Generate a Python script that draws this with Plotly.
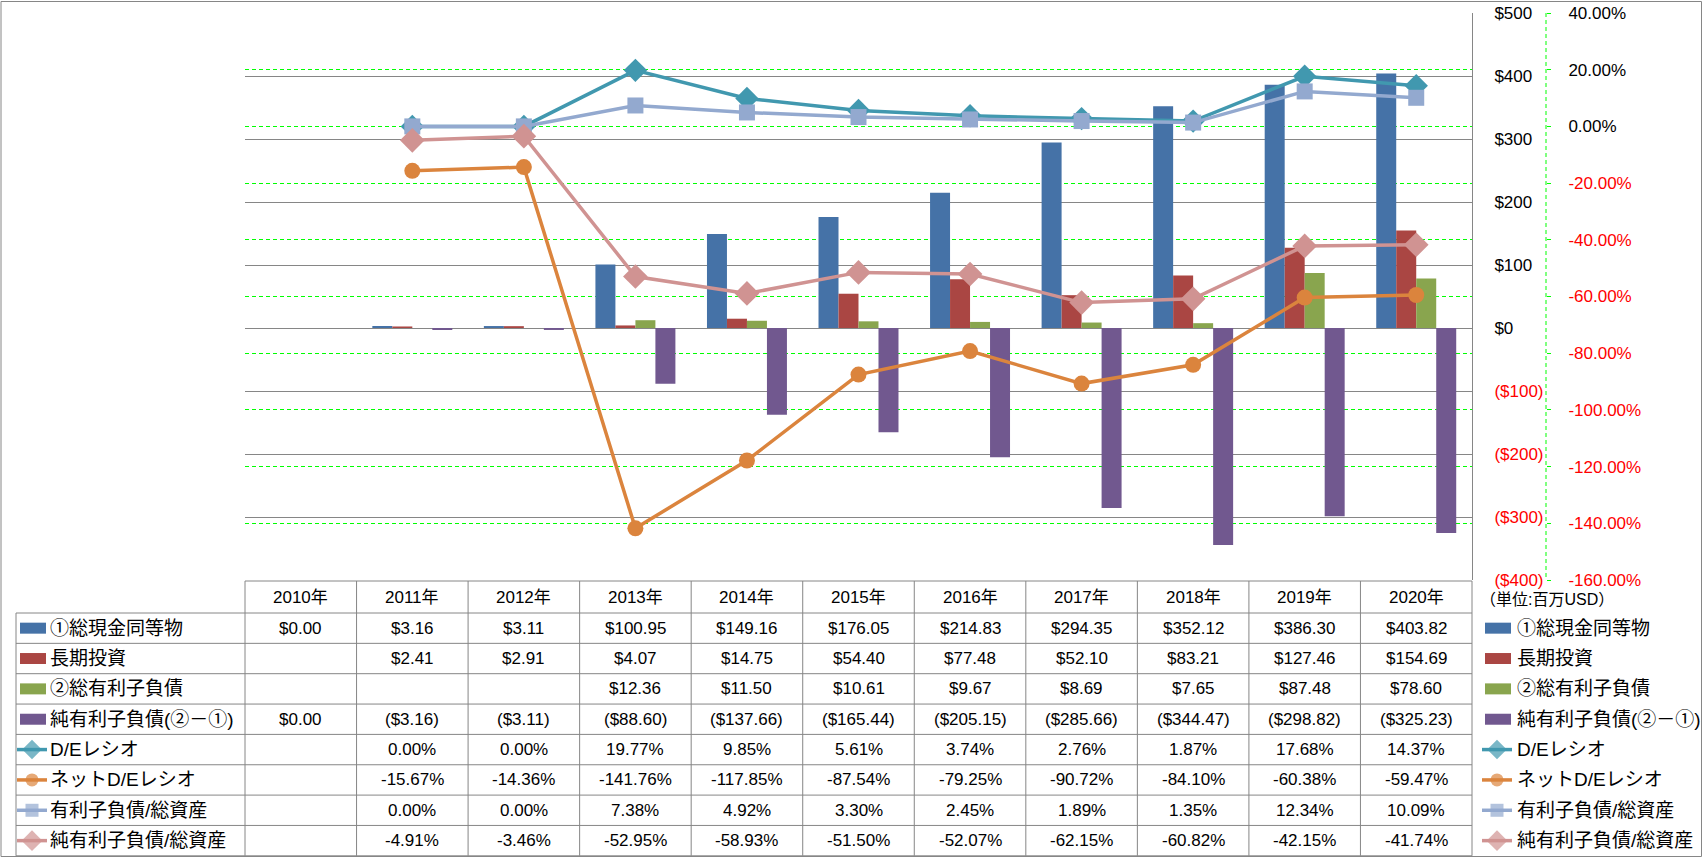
import plotly.graph_objects as go

# figure fills the whole 1704x858 page (body margin removed after render)
OFF = 0
FW, FH = 1704, 858

years = ['2010年', '2011年', '2012年', '2013年', '2014年', '2015年',
         '2016年', '2017年', '2018年', '2019年', '2020年']

cash = [0.00, 3.16, 3.11, 100.95, 149.16, 176.05, 214.83, 294.35, 352.12, 386.30, 403.82]
lt_invest = [None, 2.41, 2.91, 4.07, 14.75, 54.40, 77.48, 52.10, 83.21, 127.46, 154.69]
debt = [None, None, None, 12.36, 11.50, 10.61, 9.67, 8.69, 7.65, 87.48, 78.60]
net_debt = [0.00, -3.16, -3.11, -88.60, -137.66, -165.44, -205.15, -285.66, -344.47, -298.82, -325.23]

de_ratio = [None, 0.00, 0.00, 19.77, 9.85, 5.61, 3.74, 2.76, 1.87, 17.68, 14.37]
net_de_ratio = [None, -15.67, -14.36, -141.76, -117.85, -87.54, -79.25, -90.72, -84.10, -60.38, -59.47]
debt_assets = [None, 0.00, 0.00, 7.38, 4.92, 3.30, 2.45, 1.89, 1.35, 12.34, 10.09]
net_debt_assets = [None, -4.91, -3.46, -52.95, -58.93, -51.50, -52.07, -62.15, -60.82, -42.15, -41.74]

bar_names = ['①総現金同等物', '長期投資', '②総有利子負債', '純有利子負債(②－①)']
line_names = ['D/Eレシオ', 'ネットD/Eレシオ', '有利子負債/総資産', '純有利子負債/総資産']

usd_ticks = [-400, -300, -200, -100, 0, 100, 200, 300, 400, 500]
pct_ticks = [-160, -140, -120, -100, -80, -60, -40, -20, 0, 20, 40]
unit_label = '（単位:百万USD）'

# ---------------- styles ----------------
BLUE, RED, GREEN, PURPLE = '#4572A7', '#AA4643', '#89A54E', '#71588F'
TEAL, ORANGE, LBLUE, PINK = '#4198AF', '#DB843D', '#93A9CF', '#D09392'
GRAY = '#868686'
LIME = '#00FF00'
NEG = '#FF0000'
NUMFONT = 'Liberation Sans, Arial, Noto Sans CJK JP'
JPFONT = 'Liberation Sans, Noto Sans CJK JP'
FS = 17

# page-pixel layout
X0, X1 = 245, 1472      # plot area
Y0, Y1 = 13, 580
PCT_AXIS_X = 1546
HEAD_TOP = 581
ROW_TOP = 613
ROW_H = 30.35
LEG_L = 16


def fx(px):
    return (px - OFF) / FW


def fy(py):
    return 1 - (py - OFF) / FH


bar_colors = [BLUE, RED, GREEN, PURPLE]
bar_series = [cash, lt_invest, debt, net_debt]
line_colors = [TEAL, ORANGE, LBLUE, PINK]
line_series = [de_ratio, net_de_ratio, debt_assets, net_debt_assets]
line_symbols = ['diamond', 'circle', 'square', 'diamond']
line_sizes = [18, 16, 16, 19]

fig = go.Figure()

for name, vals, col in zip(bar_names, bar_series, bar_colors):
    fig.add_trace(go.Bar(x=years, y=vals, name=name, marker=dict(color=col, line=dict(width=0)),
                         xaxis='x', yaxis='y', hoverinfo='skip'))

for name, vals, col, sym, sz in zip(line_names, line_series, line_colors, line_symbols, line_sizes):
    fig.add_trace(go.Scatter(x=years, y=vals, name=name, mode='lines+markers',
                             line=dict(color=col, width=3.5),
                             marker=dict(symbol=sym, size=sz, color=col, line=dict(width=0)),
                             xaxis='x', yaxis='y2', hoverinfo='skip', connectgaps=False))


def fmt_usd(v):
    if v is None:
        return ''
    if v < 0:
        return '(${:,.2f})'.format(-v)
    return '${:,.2f}'.format(v)


def fmt_pct(v):
    if v is None:
        return ''
    return '{:.2f}%'.format(v)


def usd_tick(v):
    return '<span style="color:%s">($%d)</span>' % (NEG, -v) if v < 0 else '$%d' % v


def pct_tick(v):
    t = '%.2f%%' % v
    return '<span style="color:%s">%s</span>' % (NEG, t) if v < 0 else t


shapes = []
annotations = []


def hline(x0, x1, y, color=GRAY, width=1, dash=None):
    d = dict(type='line', xref='x3', yref='y3', x0=x0, x1=x1, y0=y, y1=y,
             line=dict(color=color, width=width))
    if dash:
        d['line']['dash'] = dash
    shapes.append(d)


def vline(x, y0, y1, color=GRAY, width=1, dash=None):
    d = dict(type='line', xref='x3', yref='y3', x0=x, x1=x, y0=y0, y1=y1,
             line=dict(color=color, width=width))
    if dash:
        d['line']['dash'] = dash
    shapes.append(d)


def text(x, y, s, xanchor='center', size=FS, family=NUMFONT, color='#000000'):
    annotations.append(dict(xref='x3', yref='y3', x=x, y=y, text=s, showarrow=False,
                            xanchor=xanchor, yanchor='middle',
                            font=dict(size=size, family=family, color=color)))


# outer border
shapes.append(dict(type='rect', xref='x3', yref='y3', x0=1, x1=1701.5,
                   y0=1.5, y1=856.5, line=dict(color=GRAY, width=1)))

# percent axis dashed line
vline(PCT_AXIS_X, Y0, Y1, color=LIME, width=1, dash='4px,3px')

# data table
ncol = len(years)
colw = (X1 - X0) / ncol
nrows = 8
row_bounds = [ROW_TOP + ROW_H * k for k in range(nrows + 1)]
TAB_BOT = row_bounds[-1]

hline(X0, X1, HEAD_TOP)
for yb in row_bounds:
    hline(LEG_L, X1, yb)
for k in range(ncol + 1):
    vline(X0 + colw * k, HEAD_TOP, TAB_BOT)
vline(LEG_L, ROW_TOP, TAB_BOT)

for k, yr in enumerate(years):
    text(X0 + colw * (k + 0.5), (HEAD_TOP + ROW_TOP) / 2, yr, family=JPFONT)

row_texts = [[fmt_usd(v) for v in s] for s in bar_series] + [[fmt_pct(v) for v in s] for s in line_series]
for r, vals in enumerate(row_texts):
    yc = ROW_TOP + ROW_H * (r + 0.5)
    for k, s in enumerate(vals):
        if s:
            text(X0 + colw * (k + 0.5), yc, s)

# legend keys (table left column and right legend)
all_names = bar_names + line_names
for side_x, txt_x in [(LEG_L + 4, 48), (1485, 1515)]:
    for r, name in enumerate(all_names):
        yc = ROW_TOP + ROW_H * (r + 0.5)
        if r < 4:
            shapes.append(dict(type='rect', xref='x3', yref='y3', x0=side_x, x1=side_x + 26,
                               y0=yc - 5.5, y1=yc + 5.5, fillcolor=bar_colors[r], line=dict(width=0)))
        else:
            i = r - 4
            fig.add_trace(go.Scatter(x=[side_x - 3, side_x + 12, side_x + 27], y=[yc, yc, yc],
                                     mode='lines+markers', xaxis='x3', yaxis='y3',
                                     line=dict(color=line_colors[i], width=3.5),
                                     marker=dict(symbol=line_symbols[i], color=line_colors[i],
                                                 size=[0, line_sizes[i] - 3, 0], line=dict(width=0)),
                                     hoverinfo='skip', showlegend=False))
        text(txt_x, yc, name, xanchor='left', size=19, family=JPFONT)

text(1478, 599, unit_label, xanchor='left', size=16, family=JPFONT)

fig.update_layout(
    width=FW, height=FH,
    margin=dict(l=0, r=0, t=0, b=0, pad=0),
    paper_bgcolor='white', plot_bgcolor='rgba(0,0,0,0)',
    showlegend=False,
    barmode='group', bargap=0.283, bargroupgap=0,
    xaxis=dict(domain=[fx(X0), fx(X1)], type='category', range=[-0.5, ncol - 0.5],
               showticklabels=False, showgrid=False, zeroline=False, showline=False,
               ticks='', anchor='y', fixedrange=True, automargin=False),
    yaxis=dict(domain=[fy(Y1), fy(Y0)], range=[-400, 500],
               tickvals=usd_ticks, ticktext=[usd_tick(v) for v in usd_ticks],
               side='right', anchor='free', position=fx(X1),
               showline=True, linecolor=GRAY, linewidth=1,
               showgrid=True, gridcolor=GRAY, gridwidth=1,
               zeroline=True, zerolinecolor=GRAY, zerolinewidth=1,
               ticks='', ticklabelstandoff=18, automargin=False, ticklabeloverflow='allow',
               tickfont=dict(family=NUMFONT, size=FS, color='#000000'), fixedrange=True),
    yaxis2=dict(overlaying='y', range=[-160, 40],
                tickvals=pct_ticks, ticktext=[pct_tick(v) for v in pct_ticks],
                side='right', anchor='free', position=fx(PCT_AXIS_X),
                showline=False, ticks='outside', ticklen=4, tickcolor=LIME, tickwidth=1,
                showgrid=True, gridcolor=LIME, gridwidth=1, griddash='4px,3px',
                zeroline=False, ticklabelstandoff=14, automargin=False, ticklabeloverflow='allow',
                tickfont=dict(family=NUMFONT, size=FS, color='#000000'), fixedrange=True),
    xaxis3=dict(domain=[0, 1], range=[OFF, OFF + FW], visible=False, anchor='y3',
                fixedrange=True, automargin=False),
    yaxis3=dict(domain=[0, 1], range=[OFF + FH, OFF], visible=False, anchor='x3',
                fixedrange=True, automargin=False),
    shapes=shapes,
    annotations=annotations,
)

fig.write_html('out.html', config={'displayModeBar': False, 'staticPlot': True},
               post_script="document.body.style.margin='0px';document.body.style.overflow='hidden';")
